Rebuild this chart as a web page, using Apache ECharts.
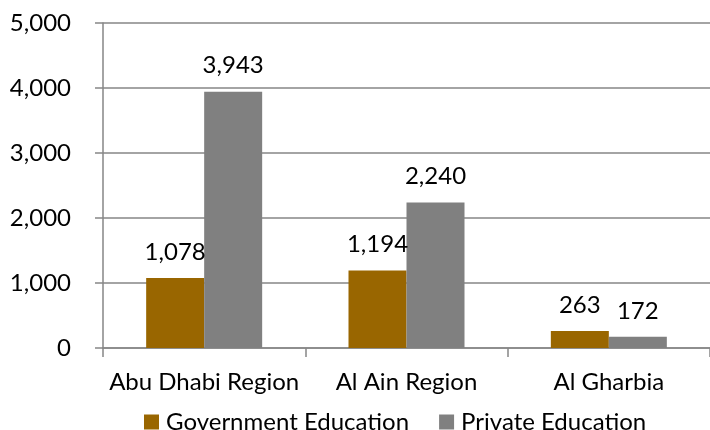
<!DOCTYPE html>
<html>
<head>
<meta charset="utf-8">
<script src="https://cdn.jsdelivr.net/npm/echarts@6/dist/echarts.min.js"></script>
<style>
    html, body { margin: 0; padding: 0; background: #fff; }
    #chart { width: 710px; height: 430px; }
</style>
</head>
<body>
<div id="chart"></div>
<script>
    // 数据
    var regions = ['Abu Dhabi Region', 'Al Ain Region', 'Al Gharbia'];
    var govValues = [1078, 1194, 263];
    var privateValues = [3943, 2240, 172];
    var seriesNames = ['Government Education', 'Private Education'];

    var font = 'Lato';
    var fontSize = 24;
    var lineColor = '#868686';

    var chart = echarts.init(document.getElementById('chart'));
    var labelStyle = {
        show: true,
        position: 'top',
        distance: 14,
        color: '#000',
        fontFamily: font,
        fontSize: fontSize,
        formatter: function (p) { return p.value.toLocaleString('en-US'); }
    };
    var option = {
        animation: false,
        textStyle: { fontFamily: font },
        grid: { left: 103, width: 615, top: 23, bottom: 82 },
        legend: {
            data: seriesNames,
            top: 405,
            left: 139,
            itemWidth: 15,
            itemHeight: 15,
            itemGap: 30,
            icon: 'rect',
            textStyle: { fontFamily: font, fontSize: fontSize, color: '#000', padding: [0, 0, 0, 2] }
        },
        xAxis: {
            type: 'category',
            data: regions,
            axisLine: { lineStyle: { color: lineColor, width: 1.5 } },
            axisTick: { show: true, length: 9, lineStyle: { color: lineColor, width: 1.5 } },
            axisLabel: { color: '#000', fontFamily: font, fontSize: fontSize, margin: 22, interval: 0 }
        },
        yAxis: {
            type: 'value',
            min: 0,
            max: 5000,
            interval: 1000,
            axisLine: { show: true, lineStyle: { color: lineColor, width: 1.5 } },
            axisTick: { show: true, length: 8, lineStyle: { color: lineColor, width: 1.5 } },
            splitLine: { lineStyle: { color: lineColor, width: 1.5 } },
            axisLabel: {
                color: '#000', fontFamily: font, fontSize: fontSize, margin: 32,
                formatter: function (v) { return v.toLocaleString('en-US'); }
            }
        },
        series: [
            {
                name: seriesNames[0],
                type: 'bar',
                data: govValues,
                barWidth: 58,
                barGap: '0%',
                itemStyle: { color: '#996600' },
                label: labelStyle
            },
            {
                name: seriesNames[1],
                type: 'bar',
                data: privateValues,
                barWidth: 58,
                itemStyle: { color: '#808080' },
                label: labelStyle
            }
        ]
    };
    chart.setOption(option);
</script>
</body>
</html>
